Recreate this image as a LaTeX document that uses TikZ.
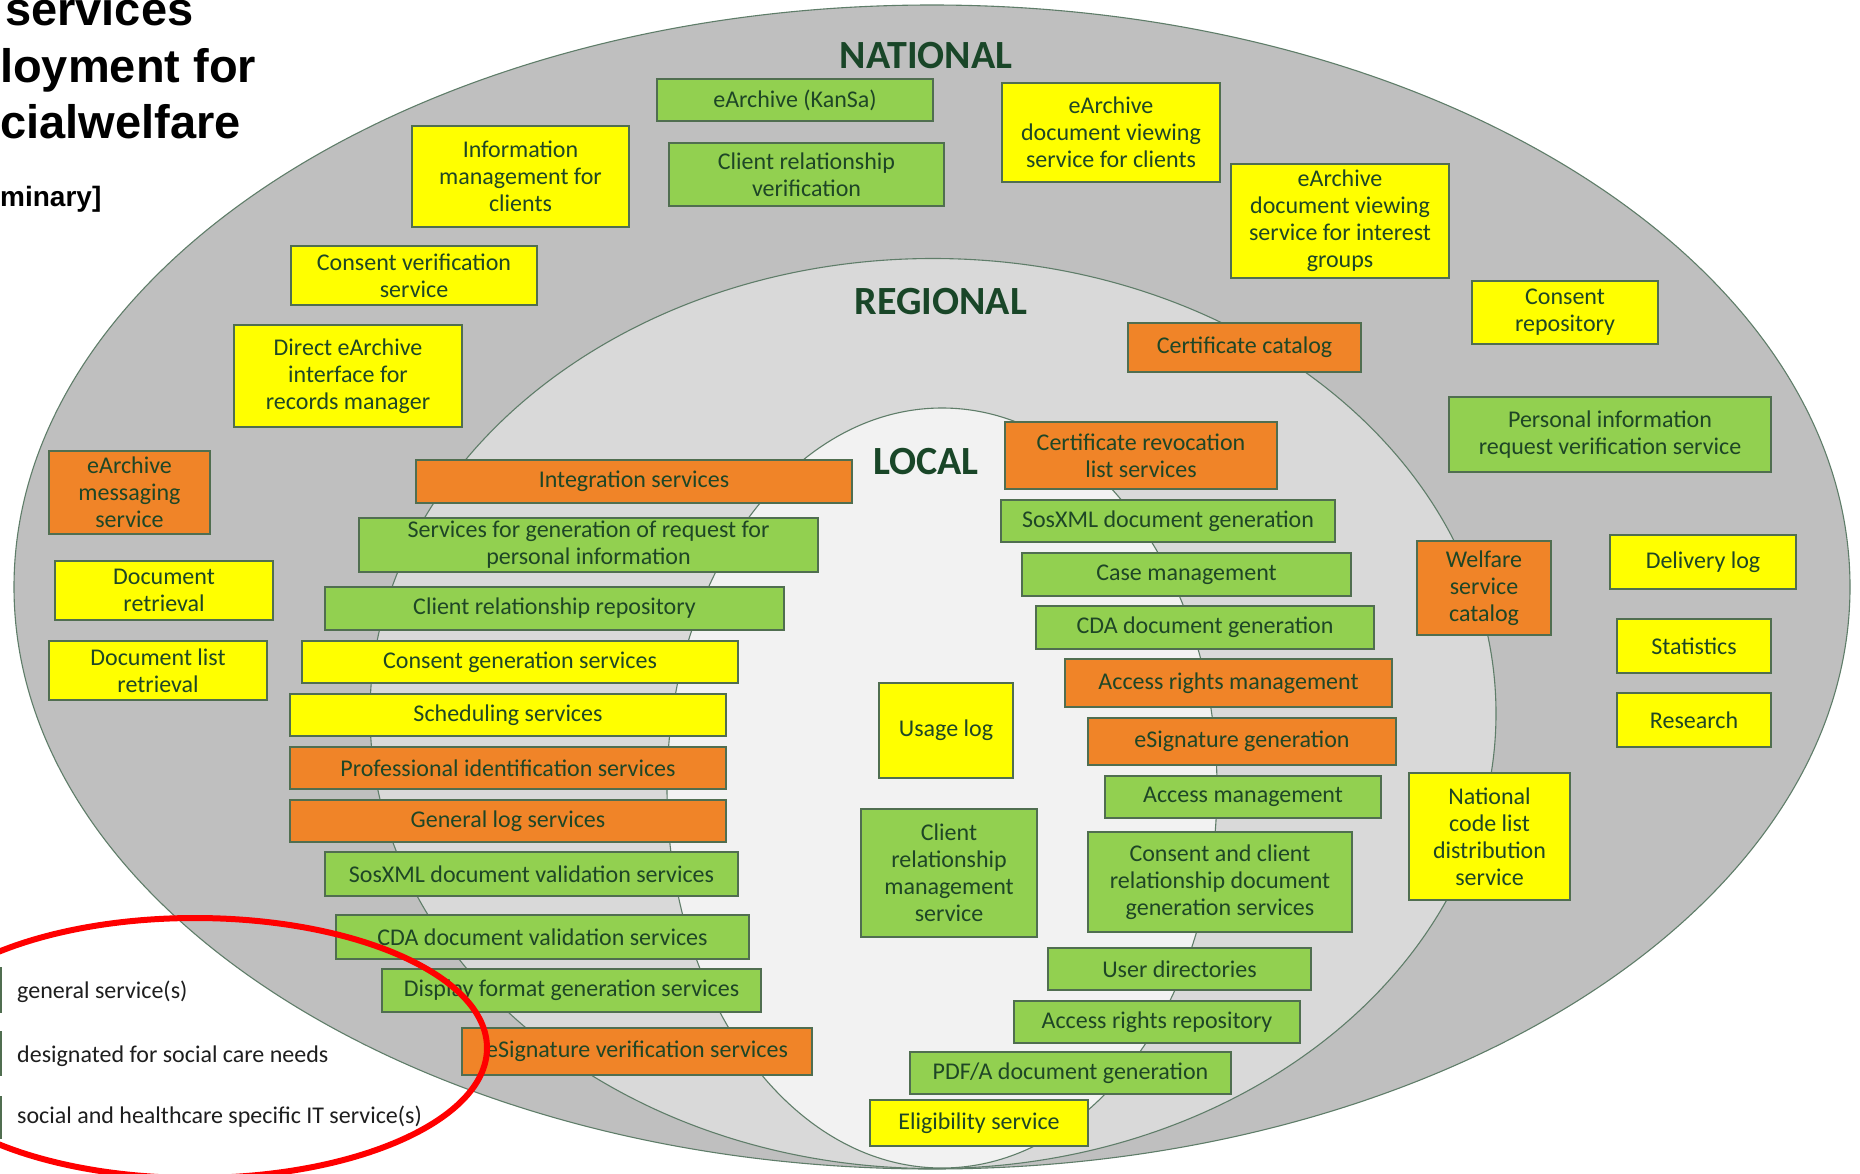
\documentclass[tikz,border=0pt]{standalone}
\usepackage{fontspec}
\setmainfont{Carlito}
\newfontfamily\titlefont{Liberation Sans}
\definecolor{natfill}{RGB}{191,191,191}
\definecolor{regfill}{RGB}{217,217,217}
\definecolor{locfill}{RGB}{242,242,242}
\definecolor{ringline}{RGB}{95,125,105}
\definecolor{gfill}{RGB}{146,208,80}
\definecolor{yfill}{RGB}{255,255,0}
\definecolor{ofill}{RGB}{240,132,40}
\definecolor{boxline}{RGB}{80,110,80}
\definecolor{boxtext}{RGB}{30,70,38}
\definecolor{lvltext}{RGB}{25,70,40}
\definecolor{legtext}{RGB}{30,30,30}
\tikzset{
  ring/.style={draw=ringline, line width=1.1pt},
  svc/.style={draw=boxline, line width=1.2pt, text=boxtext, align=center, inner sep=0pt, font=\fontsize{24}{27}\selectfont},
  gsvc/.style={svc, fill=gfill},
  ysvc/.style={svc, fill=yfill},
  osvc/.style={svc, fill=ofill},
  lvl/.style={text=lvltext, inner sep=0pt, font=\fontsize{40}{40}\selectfont\bfseries},
  legitem/.style={anchor=base west, inner sep=0pt, text=legtext, font=\fontsize{24}{27}\selectfont},
  ttl/.style={anchor=base west, inner sep=0pt, text=black, font=\titlefont\bfseries\fontsize{47}{47}\selectfont},
  ttlsmall/.style={anchor=base west, inner sep=0pt, text=black, font=\titlefont\bfseries\fontsize{28}{28}\selectfont},
}
\newcommand{\mybox}[7]{\node[#2, minimum width=#5pt, minimum height=#6pt] (#1) at (#3,#4) {#7};}
\begin{document}
\begin{tikzpicture}[x=1pt,y=-1pt]
\useasboundingbox (0,0) rectangle (1860,1173);
\clip (0,0) rectangle (1860,1173);
\fill[white] (0,0) rectangle (1860,1173);
% rings
\draw[ring, fill=natfill] (932,587) ellipse [x radius=918, y radius=582];
\draw[ring, fill=regfill] (933,713.5) ellipse [x radius=563, y radius=455];
\draw[ring, fill=locfill] (942,788) ellipse [x radius=275, y radius=380];
% level labels
\node[lvl] (natlbl) at (926,56) {NATIONAL};
\node[lvl] (reglbl) at (941,302) {REGIONAL};
\node[lvl] (loclbl) at (926,462) {LOCAL};
% national
\mybox{kansa}{gsvc}{795}{100}{276}{42}{eArchive (KanSa)}
\mybox{crver}{gsvc}{806.5}{174.5}{275}{63}{Client relationship\\verification}
\mybox{viewcl}{ysvc}{1111}{132.5}{218}{99}{eArchive\\document viewing\\service for clients}
\mybox{viewig}{ysvc}{1340}{221}{218}{114}{eArchive\\document viewing\\service for interest\\groups}
\mybox{infomgmt}{ysvc}{520.5}{176.5}{217}{101}{Information\\management for\\clients}
\mybox{consver}{ysvc}{414}{275.5}{246}{59}{Consent verification\\service}
\mybox{direct}{ysvc}{348}{376}{228}{102}{Direct eArchive\\interface for\\records manager}
\mybox{msg}{osvc}{129.5}{492.5}{161}{83}{eArchive\\messaging\\service}
\mybox{docret}{ysvc}{164}{590.5}{218}{59}{Document\\retrieval}
\mybox{doclist}{ysvc}{158}{670.5}{218}{59}{Document list\\retrieval}
\mybox{consrep}{ysvc}{1565}{312.5}{186}{63}{Consent\\repository}
\mybox{persinfo}{gsvc}{1610}{434.5}{322}{75}{Personal information\\request verification service}
\mybox{welfare}{osvc}{1484}{588}{134}{94}{Welfare\\service\\catalog}
\mybox{delivery}{ysvc}{1703}{562}{186}{54}{Delivery log}
\mybox{stats}{ysvc}{1694}{646}{154}{54}{Statistics}
\mybox{research}{ysvc}{1694}{720}{154}{54}{Research}
\mybox{codelist}{ysvc}{1489.5}{836.5}{161}{127}{National\\code list\\distribution\\service}
% regional
\mybox{certcat}{osvc}{1244.5}{347.5}{233}{49}{Certificate catalog}
\mybox{integ}{osvc}{634}{481.5}{436}{43}{Integration services}
\mybox{reqgen}{gsvc}{588.5}{545}{459}{54}{Services for generation of request for\\personal information}
\mybox{crrepo}{gsvc}{554.5}{608.5}{459}{43}{Client relationship repository}
\mybox{consgen}{ysvc}{520}{662}{436}{42}{Consent generation services}
\mybox{sched}{ysvc}{508}{715}{436}{42}{Scheduling services}
\mybox{profid}{osvc}{508}{768}{436}{42}{Professional identification services}
\mybox{genlog}{osvc}{508}{821}{436}{42}{General log services}
\mybox{sosval}{gsvc}{531.5}{874}{413}{44}{SosXML document validation services}
\mybox{cdaval}{gsvc}{542.5}{937}{413}{44}{CDA document validation services}
\mybox{dispfmt}{gsvc}{571.5}{990.5}{379}{43}{Display format generation services}
\mybox{esigver}{osvc}{637}{1051.5}{350}{47}{eSignature verification services}
% local
\mybox{crl}{osvc}{1141}{455.5}{272}{67}{Certificate revocation\\list services}
\mybox{sosgen}{gsvc}{1168}{521}{334}{42}{SosXML document generation}
\mybox{casemgmt}{gsvc}{1186.5}{574.5}{329}{43}{Case management}
\mybox{cdagen}{gsvc}{1205}{627.5}{338}{43}{CDA document generation}
\mybox{arm}{osvc}{1228.5}{683}{327}{48}{Access rights management}
\mybox{esiggen}{osvc}{1242}{741.5}{308}{47}{eSignature generation}
\mybox{accmgmt}{gsvc}{1243}{797}{276}{42}{Access management}
\mybox{consdoc}{gsvc}{1220}{882}{264}{100}{Consent and client\\relationship document\\generation services}
\mybox{userdir}{gsvc}{1179.5}{969}{263}{42}{User directories}
\mybox{arrepo}{gsvc}{1157}{1022}{286}{42}{Access rights repository}
\mybox{pdfa}{gsvc}{1070.5}{1073}{321}{42}{PDF/A document generation}
\mybox{elig}{ysvc}{979}{1123}{218}{46}{Eligibility service}
\mybox{usage}{ysvc}{946}{730.5}{134}{95}{Usage log}
\mybox{crms}{gsvc}{949}{873}{176}{128}{Client\\relationship\\management\\service}
% title (cut at the left edge)
\node[ttl] (t1) at (5,25) {services};
\node[ttl] (t2) at (0,82) {loyment for};
\node[ttl] (t3) at (0,138) {cialwelfare};
\node[ttlsmall] (t4) at (0,206) {minary]};
% legend
\node[ysvc, minimum width=40pt, minimum height=44pt] (sw1) at (-19,990) {};
\node[gsvc, minimum width=40pt, minimum height=43pt] (sw2) at (-19,1053.5) {};
\node[osvc, minimum width=40pt, minimum height=41pt] (sw3) at (-19,1117.5) {};
\node[legitem] (lg1) at (17,998) {general service(s)};
\node[legitem] (lg2) at (17,1062) {designated for social care needs};
\node[legitem] (lg3) at (17,1123) {social and healthcare specific IT service(s)};
% red highlight
\draw[red, line width=6pt] (195,1048) ellipse [x radius=292, y radius=130];
\end{tikzpicture}
\end{document}
